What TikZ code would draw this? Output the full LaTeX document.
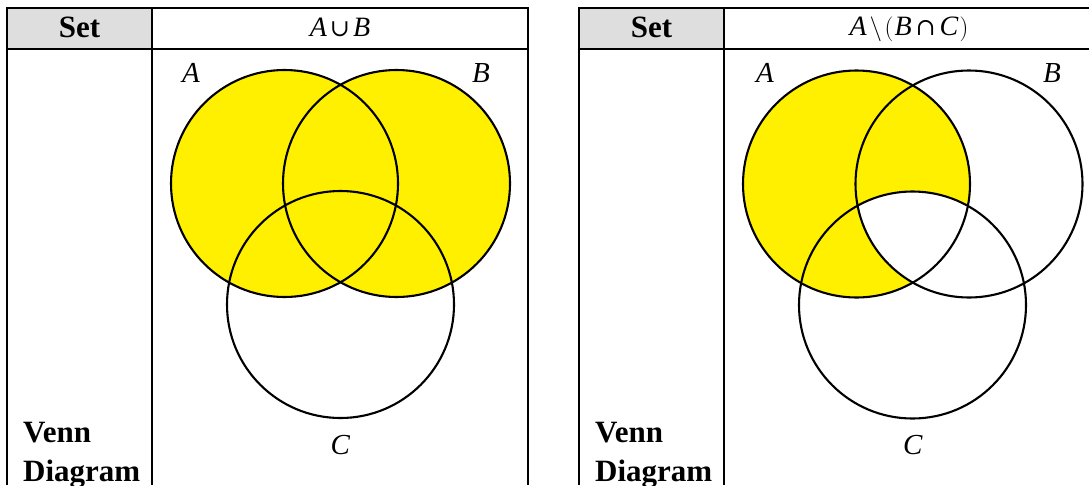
\documentclass[tikz,border=0pt]{standalone}
\usepackage{fontspec}
\setmainfont{Liberation Serif}
\newfontfamily\symfont{DejaVu Serif}
\newcommand{\vl}[1]{\textit{#1}}
\definecolor{vennyellow}{RGB}{255,240,0}
\definecolor{hdrgray}{RGB}{222,222,222}
\tikzset{
  tbl/.style={line width=2pt, line cap=butt},
  venn/.style={line width=2.1pt},
  boldtxt/.style={font=\bfseries\fontsize{31}{31}\selectfont, inner sep=0pt},
  hdrmath/.style={font=\fontsize{28}{28}\selectfont, inner sep=0pt, anchor=base},
  lbl/.style={font=\fontsize{29}{29}\selectfont, inner sep=0pt, anchor=base}
}
\begin{document}
\begin{tikzpicture}[x=1pt,y=-1pt]
\useasboundingbox (0,0) rectangle (1089,485);
% ---------- left table ----------
\fill[hdrgray] (7,8) rectangle (152,49);
\fill[vennyellow] (284.5,183.5) circle[radius=113.5];
\fill[vennyellow] (396.5,183.5) circle[radius=113.5];
\draw[venn] (284.5,183.5) circle[radius=113.5];
\draw[venn] (396.5,183.5) circle[radius=113.5];
\draw[venn] (340.5,304.5) circle[radius=113.5];
\draw[tbl] (7,485) -- (7,8) -- (528,8) -- (528,485);
\draw[tbl] (152,8) -- (152,485);
\draw[tbl] (7,49) -- (528,49);
\node[boldtxt, anchor=base] (set1) at (79.5,37) {Set};
\node[hdrmath] (h1) at (340,36) {\vl{A}\kern3pt{\symfont\fontsize{24}{24}\selectfont ∪}\kern3pt\vl{B}};
\node[lbl] (a1) at (191,82) {\vl{A}};
\node[lbl] (b1) at (481,82) {\vl{B}};
\node[lbl] (c1) at (340.5,454) {\vl{C}};
\node[boldtxt, anchor=base west] (venn1) at (23,442) {Venn};
\node[boldtxt, anchor=base west] (diag1) at (23,481) {Diagram};
% ---------- right table ----------
\fill[hdrgray] (579,8) rectangle (724,49);
\fill[vennyellow] (856.5,184) circle[radius=113.5];
\begin{scope}
  \clip (969,184) circle[radius=113.5];
  \fill[white] (912.5,305) circle[radius=113.5];
\end{scope}
\draw[venn] (856.5,184) circle[radius=113.5];
\draw[venn] (969,184) circle[radius=113.5];
\draw[venn] (912.5,305) circle[radius=113.5];
\draw[tbl] (579,485) -- (579,8) -- (1089,8);
\draw[tbl] (724,8) -- (724,485);
\draw[tbl] (579,49) -- (1089,49);
\node[boldtxt, anchor=base] (set2) at (651.5,37) {Set};
\node[hdrmath] (h2) at (909,35) {\vl{A}$\mskip2mu\big\backslash\mskip2mu\big($\kern1pt\vl{B}\kern4pt{\symfont\fontsize{24}{24}\selectfont ∩}\kern4pt\vl{C}\kern1pt$\big)$};
\node[lbl] (a2) at (765,82) {\vl{A}};
\node[lbl] (b2) at (1052,82) {\vl{B}};
\node[lbl] (c2) at (913,454) {\vl{C}};
\node[boldtxt, anchor=base west] (venn2) at (595,442) {Venn};
\node[boldtxt, anchor=base west] (diag2) at (595,481) {Diagram};
\end{tikzpicture}
\end{document}
